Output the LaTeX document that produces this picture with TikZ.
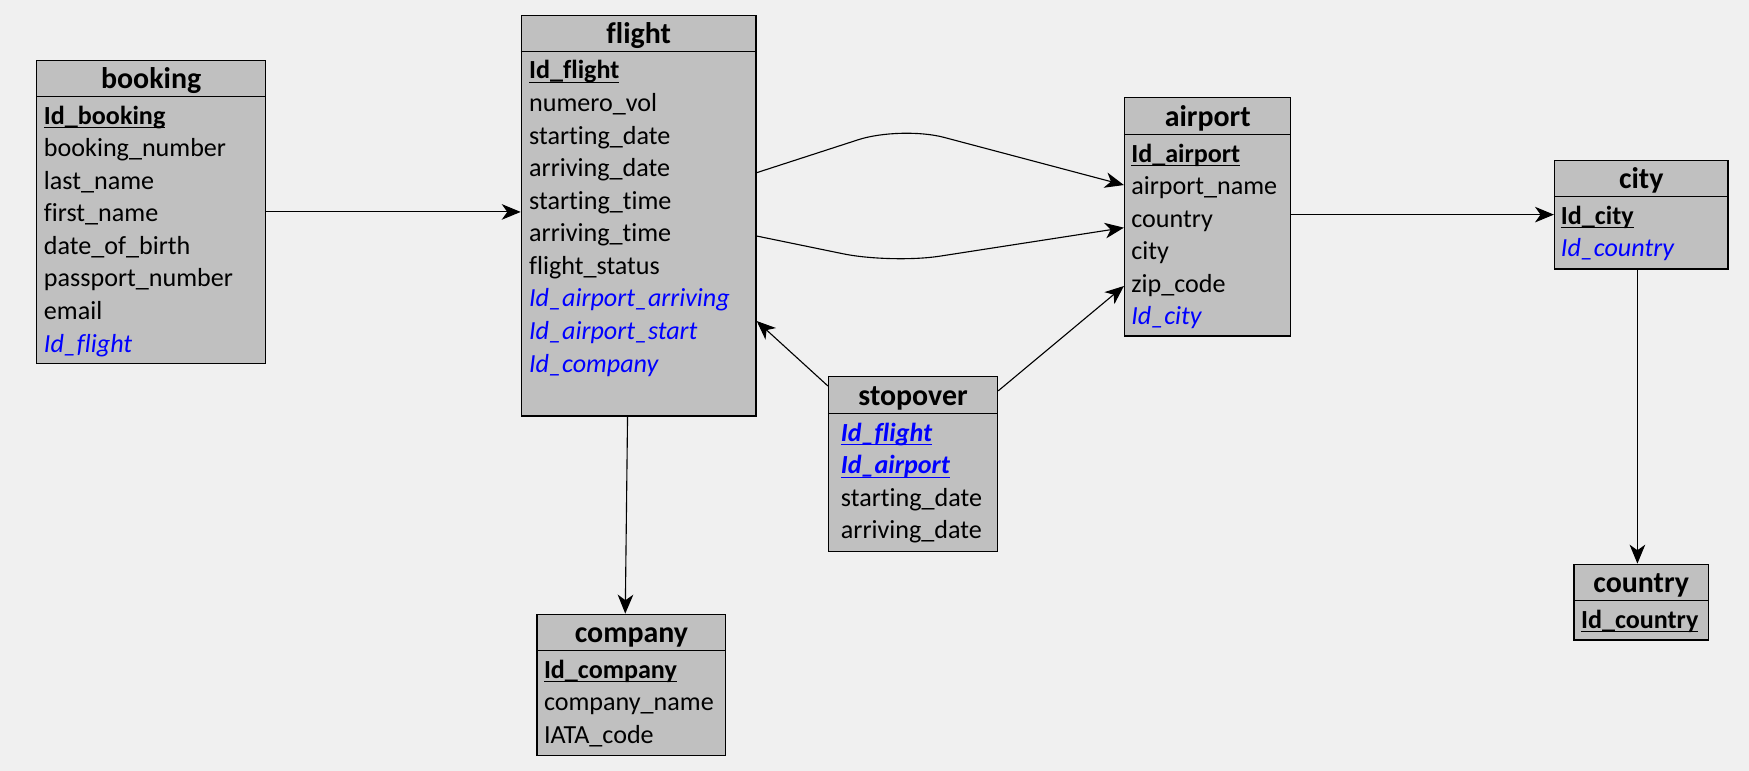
\documentclass[tikz,border=0pt]{standalone}
\usepackage{fontspec}
\setmainfont{Carlito}[Ligatures={NoCommon,NoContextual,NoRare}]
\usetikzlibrary{arrows.meta,calc,fit}
\definecolor{bg}{HTML}{F0F0F0}
\definecolor{boxfill}{HTML}{C0C0C0}
\definecolor{fkblue}{HTML}{0000FF}
\newcommand\keyul[1]{\setbox0\hbox{#1}\rlap{\rule[-1.9pt]{\wd0}{0.5pt}}\box0}
\newcommand\hdrline[2]{\draw[line width=0.6pt] ($(#1.north west)+(0,#2)$) -- ($(#1.north east)+(0,#2)$);}
\begin{document}
\begin{tikzpicture}[x=0.5pt,y=-0.5pt,
  tbl/.style={draw=black,line width=0.6pt,fill=boxfill,inner sep=0pt},
  ttl/.style={font=\fontsize{13.4}{16}\selectfont\bfseries,inner sep=0pt,anchor=base},
  fld/.style={font=\fontsize{11.7}{14}\selectfont,inner sep=0pt,anchor=base west},
  fk/.style={fld,text=fkblue,font=\fontsize{11.7}{14}\selectfont\itshape},
  pk/.style={fld,font=\fontsize{11.7}{14}\selectfont\bfseries},
  pkfk/.style={fld,text=fkblue,font=\fontsize{11.7}{14}\selectfont\bfseries\itshape},
  con/.style={line width=0.5pt,-{Stealth[length=8.5pt,width=7pt,inset=2.5pt]}}]
\fill[bg] (0,0) rectangle (1568,691.2);

% booking
\node[tbl,fit={(33,54) (238,326)}] (booking) {};
\hdrline{booking}{33.2}
\node[ttl] (booking-t) at ($(booking.north)+(0,26)$) {booking};
\node[pk] (booking-1) at (39,111.2) {\keyul{Id\_booking}};
\node[fld] (booking-2) at (39,140.4) {booking\_number};
\node[fld] (booking-3) at (39,169.6) {last\_name};
\node[fld] (booking-4) at (39,198.8) {first\_name};
\node[fld] (booking-5) at (39,228.0) {date\_of\_birth};
\node[fld] (booking-6) at (39,257.2) {passport\_number};
\node[fld] (booking-7) at (39,286.4) {email};
\node[fk] (booking-8) at (39,315.6) {Id\_flight};

% flight
\node[tbl,fit={(467.4,13.7) (677.8,373)}] (flight) {};
\hdrline{flight}{33.2}
\node[ttl] (flight-t) at ($(flight.north)+(0,25.5)$) {flight};
\node[pk] (flight-1) at (474,70.8) {\keyul{Id\_flight}};
\node[fld] (flight-2) at (474,100.0) {numero\_vol};
\node[fld] (flight-3) at (474,129.2) {starting\_date};
\node[fld] (flight-4) at (474,158.4) {arriving\_date};
\node[fld] (flight-5) at (474,187.6) {starting\_time};
\node[fld] (flight-6) at (474,216.8) {arriving\_time};
\node[fld] (flight-7) at (474,246.0) {flight\_status};
\node[fk] (flight-8) at (474,275.2) {Id\_airport\_arriving};
\node[fk] (flight-9) at (474,304.4) {Id\_airport\_start};
\node[fk] (flight-10) at (474,333.6) {Id\_company};

% airport
\node[tbl,fit={(1008.2,87.3) (1157.2,301.2)}] (airport) {};
\hdrline{airport}{34}
\node[ttl] (airport-t) at ($(airport.north)+(0,26.3)$) {airport};
\node[pk] (airport-1) at (1013.8,145.3) {\keyul{Id\_airport}};
\node[fld] (airport-2) at (1013.8,174.5) {airport\_name};
\node[fld] (airport-3) at (1013.8,203.7) {country};
\node[fld] (airport-4) at (1013.8,232.9) {city};
\node[fld] (airport-5) at (1013.8,262.1) {zip\_code};
\node[fk] (airport-6) at (1013.8,291.3) {Id\_city};

% city
\node[tbl,fit={(1393.7,143.7) (1549,241.1)}] (city) {};
\hdrline{city}{33.2}
\node[ttl] (city-t) at ($(city.north)+(0,25.5)$) {city};
\node[pk] (city-1) at (1399,200.9) {\keyul{Id\_city}};
\node[fk] (city-2) at (1399,230.1) {Id\_country};

% stopover
\node[tbl,fit={(742.8,337.7) (894.3,494.2)}] (stopover) {};
\hdrline{stopover}{33.7}
\node[ttl] (stopover-t) at ($(stopover.north)+(0,26)$) {stopover};
\node[pkfk] (stopover-1) at (753.5,395.4) {\keyul{Id\_flight}};
\node[pkfk] (stopover-2) at (753.5,424.6) {\keyul{Id\_airport}};
\node[fld] (stopover-3) at (753.5,453.8) {starting\_date};
\node[fld] (stopover-4) at (753.5,483.0) {arriving\_date};

% company
\node[tbl,fit={(481.4,550.7) (650.7,677.1)}] (company) {};
\hdrline{company}{33.2}
\node[ttl] (company-t) at ($(company.north)+(0,25.5)$) {company};
\node[pk] (company-1) at (487.3,607.9) {\keyul{Id\_company}};
\node[fld] (company-2) at (487.3,637.1) {company\_name};
\node[fld] (company-3) at (487.3,666.3) {IATA\_code};

% country
\node[tbl,fit={(1411.2,505.9) (1531.5,573.7)}] (country) {};
\hdrline{country}{33.2}
\node[ttl] (country-t) at ($(country.north)+(0,25.5)$) {country};
\node[pk] (country-1) at (1417,563.1) {\keyul{Id\_country}};

% connectors
\draw[con] (booking.east) -- (booking.east -| flight.west);
\draw[con,rounded corners=20pt] ($(flight.north east)+(0,141.7)$) -- (807.6,112.9) -- ($(airport.north west)+(0,79.2)$);
\draw[con,rounded corners=22pt] ($(flight.north east)+(0,198.5)$) -- (799,236.4) -- ($(airport.north west)+(0,117.4)$);
\draw[con] ($(stopover.north west)+(0,8.9)$) -- ($(flight.north east)+(0,274.7)$);
\draw[con] ($(stopover.north east)+(0,13.3)$) -- ($(airport.north west)+(0,169.7)$);
\draw[con] (airport.east |- city.west) -- (city.west);
\draw[con] ($(flight.south)+(-10,0)$) -- ($(company.north)+(-5.5,0)$);
\draw[con] ($(city.south)+(-3.4,0)$) -- ($(country.north)+(-3.4,0)$);
\end{tikzpicture}
\end{document}
